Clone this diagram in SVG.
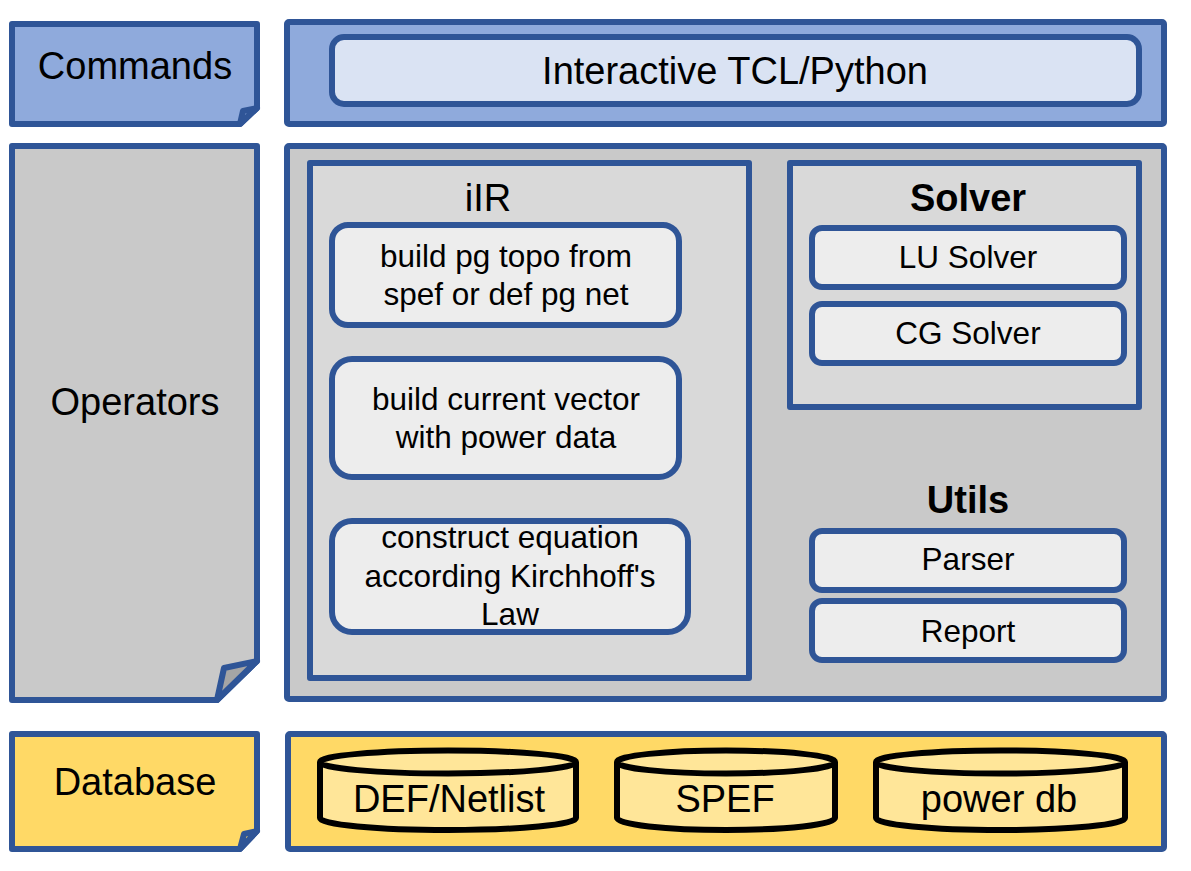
<svg xmlns="http://www.w3.org/2000/svg" width="1191" height="871" viewBox="0 0 1191 871">
<style>
.b{stroke:#2f5597;stroke-width:6;stroke-linejoin:round}
.cmd{fill:#8faadc}
.pill{fill:#dae3f3}
.op{fill:#c9c9c9}
.inner{fill:#d9d9d9}
.node{fill:#ededed}
.db{fill:#ffd966}
.cyl{fill:#ffe699;stroke:#000;stroke-width:6}
.flap{fill:#a5a5a5}
text{font-family:"Liberation Sans",Arial,sans-serif;fill:#000;text-anchor:middle}
.big{font-size:38px}
.sm{font-size:31.5px}
.bold{font-size:38px;font-weight:bold}
</style>
<rect width="1191" height="871" fill="#fff"/>
<g id="commands-label">
<path class="b cmd" d="M12,24 H257 V108 L240,124 H12 Z"/>
<path class="b cmd" d="M257,108 L243,111 L240,124 Z"/>
<text class="big" x="135" y="79">Commands</text>
</g>
<g id="commands">
<rect class="b cmd" x="287" y="22" width="877" height="102" rx="2"/>
<rect class="b pill" x="332" y="37" width="807" height="67" rx="12"/>
<text class="big" x="735" y="84">Interactive TCL/Python</text>
</g>
<g id="operators-label">
<path class="b op" d="M12,146 H257 V661 L217,700 H12 Z"/>
<path class="b flap" d="M257,661 L224,668 L217,700 Z"/>
<text class="big" x="135" y="415">Operators</text>
</g>
<g id="operators">
<rect class="b op" x="287" y="146" width="877" height="553" rx="2"/>
</g>
<g id="iir">
<rect class="b inner" x="310" y="163" width="439" height="515"/>
<text class="big" x="488" y="211">iIR</text>
</g>
<g id="build-topo">
<rect class="b node" x="332" y="225" width="347" height="100" rx="16"/>
<text class="sm" x="506" y="267">build pg topo from</text>
<text class="sm" x="506" y="305">spef or def pg net</text>
</g>
<g id="build-current">
<rect class="b node" x="332" y="359" width="347" height="118" rx="20"/>
<text class="sm" x="506" y="410">build current vector</text>
<text class="sm" x="506" y="448">with power data</text>
</g>
<g id="construct-equation">
<rect class="b node" x="332" y="521" width="356" height="111" rx="20"/>
<text class="sm" x="510" y="548">construct equation</text>
<text class="sm" x="510" y="587">according Kirchhoff's</text>
<text class="sm" x="510" y="625">Law</text>
</g>
<g id="solver">
<rect class="b inner" x="790" y="163" width="349" height="244"/>
<text class="bold" x="968" y="211">Solver</text>
</g>
<g id="lu-solver">
<rect class="b node" x="812" y="228" width="312" height="59" rx="10"/>
<text class="sm" x="968" y="268">LU Solver</text>
</g>
<g id="cg-solver">
<rect class="b node" x="812" y="304" width="312" height="59" rx="10"/>
<text class="sm" x="968" y="344">CG Solver</text>
</g>
<g id="utils">
<text class="bold" x="968" y="513">Utils</text>
</g>
<g id="parser">
<rect class="b node" x="812" y="531" width="312" height="59" rx="10"/>
<text class="sm" x="968" y="570">Parser</text>
</g>
<g id="report">
<rect class="b node" x="812" y="601" width="312" height="59" rx="10"/>
<text class="sm" x="968" y="642">Report</text>
</g>
<g id="database-label">
<path class="b db" d="M12,734 H257 V831 L240,849 H12 Z"/>
<path class="b db" d="M257,831 L244,834 L240,849 Z"/>
<text class="big" x="135" y="795">Database</text>
</g>
<g id="database">
<rect class="b db" x="288" y="734" width="876" height="115" rx="2"/>
</g>
<g id="def-netlist">
<path class="cyl" d="M320,762 V818 A128,12 0 0 0 576,818 V762"/>
<ellipse class="cyl" cx="448" cy="762" rx="128" ry="11.5"/>
<text class="big" x="449" y="812">DEF/Netlist</text>
</g>
<g id="spef">
<path class="cyl" d="M617,762 V818 A109,12 0 0 0 835,818 V762"/>
<ellipse class="cyl" cx="726" cy="762" rx="109" ry="11.5"/>
<text class="big" x="725" y="812">SPEF</text>
</g>
<g id="power-db">
<path class="cyl" d="M876,762 V818 A124.5,12 0 0 0 1125,818 V762"/>
<ellipse class="cyl" cx="1000.5" cy="762" rx="124.5" ry="11.5"/>
<text class="big" x="999" y="812">power db</text>
</g>
<g id="connectors"></g>
</svg>
